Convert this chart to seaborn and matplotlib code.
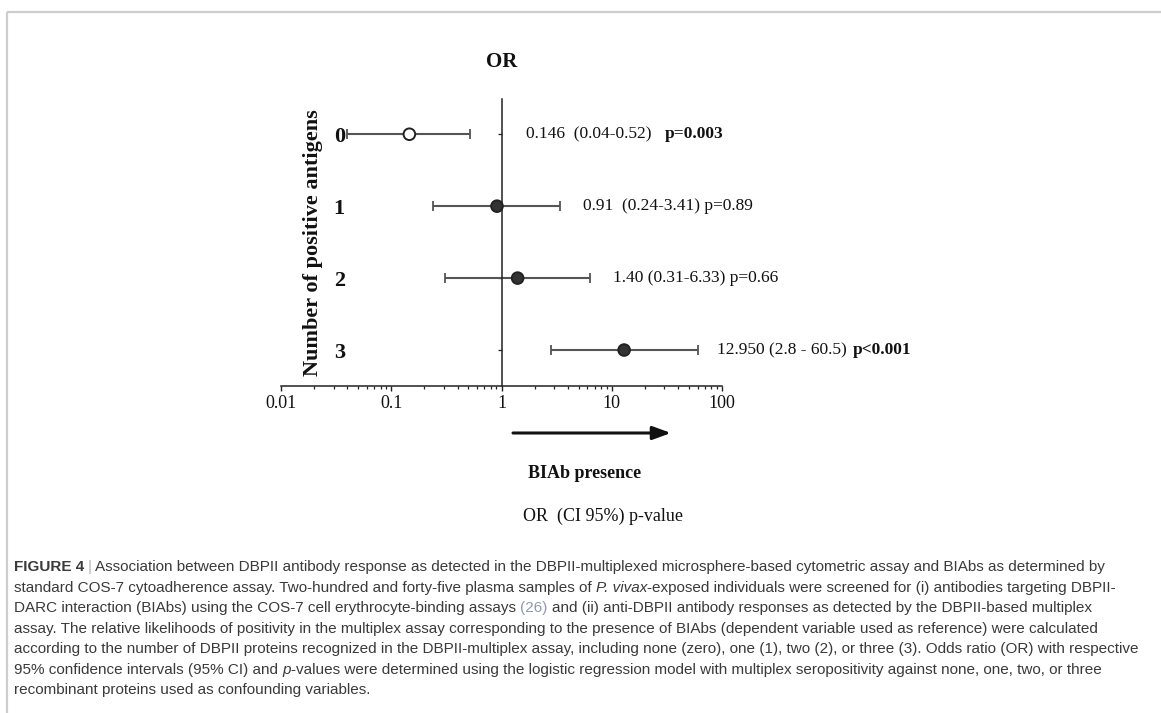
import numpy as np
import pandas as pd
import matplotlib
matplotlib.use("Agg")
import matplotlib.pyplot as plt
from matplotlib.ticker import NullFormatter, LogLocator
import seaborn as sns

# ---------------- data ----------------
groups = ["0", "1", "2", "3"]
odds_ratio = [0.146, 0.91, 1.40, 12.95]
ci_low = [0.04, 0.24, 0.31, 2.8]
ci_high = [0.52, 3.41, 6.33, 60.5]
marker_kind = ["open", "filled", "filled", "filled"]
estimate_text = ["0.146  (0.04-0.52)", "0.91  (0.24-3.41) p=0.89",
                 "1.40 (0.31-6.33) p=0.66", "12.950 (2.8 - 60.5)"]
p_bold = ["p=0.003", "", "", "p<0.001"]
x_ticks = [0.01, 0.1, 1, 10, 100]
x_tick_labels = ["0.01", "0.1", "1", "10", "100"]

# ---------------- figure ----------------
W, H = 1161, 713
sns.set_theme(style="ticks")
plt.rcParams['font.family'] = ['Liberation Serif', 'DejaVu Serif']
plt.rcParams['axes.linewidth'] = 1.0

fig = plt.figure(figsize=(W / 100, H / 100), dpi=100)
fig.patch.set_facecolor("white")

# overlay axes for decorations (figure fraction coordinates)
ov = fig.add_axes([0, 0, 1, 1])
ov.set_xlim(0, 1)
ov.set_ylim(0, 1)
ov.axis("off")

def fx(px):
    return px / W

def fy(py):
    return 1 - py / H

ax = fig.add_axes([fx(281), fy(386), fx(722) - fx(281), fy(99) - fy(386)])
ax.set_facecolor("none")

rows = np.arange(len(groups))
df = pd.DataFrame({"row": rows, "OR": odds_ratio, "kind": marker_kind,
                   "low": ci_low, "high": ci_high})

ax.errorbar(df["OR"], df["row"],
            xerr=[df["OR"] - df["low"], df["high"] - df["OR"]],
            fmt="none", ecolor="#555555", elinewidth=1.5, capsize=3.3,
            capthick=1.3, zorder=2)

sns.scatterplot(data=df, x="OR", y="row", hue="kind",
                palette={"open": "white", "filled": "#333333"},
                edgecolor="#222222", linewidth=1.4, s=70, legend=False,
                ax=ax, zorder=3)

ax.set_xscale("log")
ax.set_xlim(0.01, 100)
ax.set_ylim(3.5, -0.49)

# spines
ax.spines["top"].set_visible(False)
ax.spines["right"].set_visible(False)
ax.spines["left"].set_position(("data", 1))
for s in ["left", "bottom"]:
    ax.spines[s].set_color("#222222")
    ax.spines[s].set_linewidth(1.1)

# x ticks
ax.set_xticks(x_ticks)
ax.set_xticklabels(x_tick_labels, fontsize=13, color="#111111")
ax.xaxis.set_minor_locator(LogLocator(base=10, subs=np.arange(2, 10)))
ax.xaxis.set_minor_formatter(NullFormatter())
ax.tick_params(axis="x", which="major", length=3.8, width=1.0, pad=3,
               direction="out", colors="#222222", labelcolor="#111111")
ax.tick_params(axis="x", which="minor", length=1.8, width=0.9,
               direction="out", colors="#222222")

# y ticks
ax.set_yticks(rows)
ax.set_yticklabels(groups, fontsize=16, fontweight="bold", color="#111111")
ax.tick_params(axis="y", which="major", length=2.8, width=0.9, pad=110,
               direction="out", colors="#222222", labelcolor="#111111")
ax.tick_params(axis="y", which="minor", left=False)

ax.set_xlabel("")
ax.set_ylabel("Number of positive antigens", fontsize=16, fontweight="bold",
              color="#111111", labelpad=8)

# Title "OR"
ax.text(1, 1.13, "OR", transform=ax.get_xaxis_transform(), ha="center",
        va="center", fontsize=15, fontweight="bold", color="#111111")

# estimate texts
offsets_px = [24, 23, 23, 19]
gaps_px = [14, 0, 0, 6]
for i in range(len(groups)):
    anchor = max(ci_high[i], 1)
    t = ax.annotate(estimate_text[i], xy=(anchor, rows[i]),
                    xytext=(offsets_px[i] * 0.72, 0), textcoords="offset points",
                    ha="left", va="center", fontsize=12.5, color="#111111",
                    annotation_clip=False)
    if p_bold[i]:
        ax.annotate(p_bold[i], xy=(1, 0.5), xycoords=t,
                    xytext=(gaps_px[i] * 0.72, 0), textcoords="offset points",
                    ha="left", va="center", fontsize=12.5, fontweight="bold",
                    color="#111111")

# arrow and labels under the axis
ov.annotate("", xy=(fx(671), fy(433)), xytext=(fx(513), fy(433)),
            arrowprops=dict(arrowstyle="-|>,head_length=0.55,head_width=0.2",
                            mutation_scale=20, lw=2.2, color="#111111",
                            shrinkA=0, shrinkB=0))
ov.text(fx(585), fy(473), "BIAb presence", ha="center", va="center",
        fontsize=13, fontweight="bold", color="#111111")
ov.text(fx(603), fy(516), "OR  (CI 95%) p-value", ha="center", va="center",
        fontsize=13, color="#111111")

# frame lines
ov.plot([fx(7), fx(7)], [0, fy(12)], color="#cdcdcd", lw=1.6,
        solid_capstyle="butt")
ov.plot([fx(7), 1], [fy(12), fy(12)], color="#cdcdcd", lw=1.6,
        solid_capstyle="butt")

# ---------------- caption ----------------
cap_color = "#3a3a3a"
link_color = "#8c9bb0"
bar_color = "#b5b5b5"
sans = ["Liberation Sans", "DejaVu Sans"]

caption = [
    [("FIGURE 4", "bold", 0), ("|", "bar", 0.8),
     ("Association between DBPII antibody response as detected in the DBPII-multiplexed microsphere-based cytometric assay and BIAbs as determined by", "normal", 0.8)],
    [("standard COS-7 cytoadherence assay. Two-hundred and forty-five plasma samples of", "normal", 0),
     ("P. vivax", "italic", 1), ("-exposed individuals were screened for (i) antibodies targeting DBPII-", "normal", 0)],
    [("DARC interaction (BIAbs) using the COS-7 cell erythrocyte-binding assays", "normal", 0),
     ("(26)", "link", 1), ("and (ii) anti-DBPII antibody responses as detected by the DBPII-based multiplex", "normal", 1)],
    [("assay. The relative likelihoods of positivity in the multiplex assay corresponding to the presence of BIAbs (dependent variable used as reference) were calculated", "normal", 0)],
    [("according to the number of DBPII proteins recognized in the DBPII-multiplex assay, including none (zero), one (1), two (2), or three (3). Odds ratio (OR) with respective", "normal", 0)],
    [("95% confidence intervals (95% CI) and", "normal", 0), ("p", "italic", 1),
     ("-values were determined using the logistic regression model with multiplex seropositivity against none, one, two, or three", "normal", 0)],
    [("recombinant proteins used as confounding variables.", "normal", 0)],
]
line_y = [567, 588, 608, 629, 649, 670, 690]
x0 = 14
x_end = 1146

# fit font size so that the widest caption line fits the page width
renderer = fig.canvas.get_renderer()
widest = 0
for segs in caption:
    joined = ""
    for text, style, gap in segs:
        joined += (" " if (joined and gap > 0) else "") + text
    probe = ov.text(0, 0, joined, fontsize=10, family=sans, ha="left", va="center")
    widest = max(widest, probe.get_window_extent(renderer).width)
    probe.remove()
cap_fs = 10 * (x_end - x0) / widest

for segs, ypx in zip(caption, line_y):
    prev = None
    for text, style, gap in segs:
        kw = dict(fontsize=cap_fs, color=cap_color, family=sans)
        if style == "bold":
            kw["fontweight"] = "bold"
        elif style == "italic":
            kw["fontstyle"] = "italic"
        elif style == "link":
            kw["color"] = link_color
        elif style == "bar":
            kw["color"] = bar_color
        if prev is None:
            prev = ov.text(fx(x0), fy(ypx), text, ha="left", va="center", **kw)
        else:
            g = gap * 0.278 * cap_fs
            prev = ov.annotate(text, xy=(1, 0.5), xycoords=prev,
                               xytext=(g, 0), textcoords="offset points",
                               ha="left", va="center", **kw)

fig.savefig("out.png", dpi=100, facecolor="white")
